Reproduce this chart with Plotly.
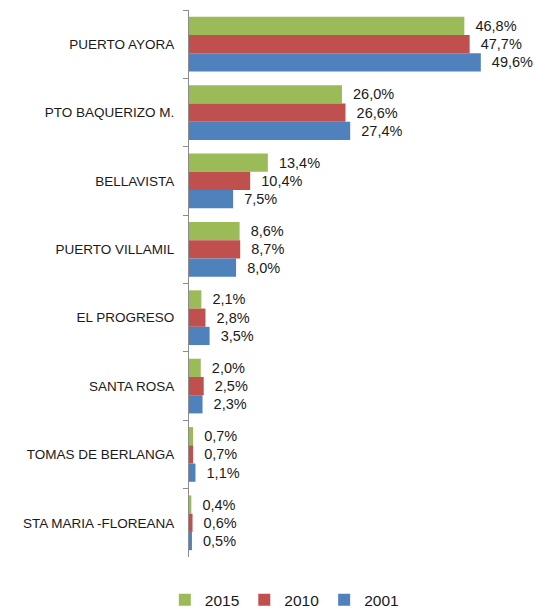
import plotly.graph_objects as go

categories = ["PUERTO AYORA", "PTO BAQUERIZO M.", "BELLAVISTA", "PUERTO VILLAMIL",
              "EL PROGRESO", "SANTA ROSA", "TOMAS DE BERLANGA", "STA MARIA -FLOREANA"]
v2015 = [46.8, 26.0, 13.4, 8.6, 2.1, 2.0, 0.7, 0.4]
v2010 = [47.7, 26.6, 10.4, 8.7, 2.8, 2.5, 0.7, 0.6]
v2001 = [49.6, 27.4, 7.5, 8.0, 3.5, 2.3, 1.1, 0.5]

series = [("2015", v2015, "#9BBB59"), ("2010", v2010, "#C0504D"), ("2001", v2001, "#4F81BD")]

def fmt(v):
    return "  " + f"{v:.1f}".replace(".", ",") + "%"

fig = go.Figure()
for name, vals, color in series:
    fig.add_trace(go.Bar(
        y=categories, x=vals, name=name, orientation="h",
        marker=dict(color=color, line=dict(width=0)),
        text=[fmt(v) for v in vals], textposition="outside",
        textfont=dict(family="Liberation Sans, Arial", size=14.5, color="#1a1a1a"),
        cliponaxis=False,
    ))

fig.update_layout(
    width=534, height=602,
    margin=dict(l=181, r=0, t=2, b=53, autoexpand=False),
    barmode="group", bargap=0.2, bargroupgap=0,
    plot_bgcolor="white", paper_bgcolor="white",
    font=dict(family="Liberation Sans, Arial", color="#1a1a1a"),
    xaxis=dict(range=[0, 60], showgrid=False, showticklabels=False, zeroline=False,
               showline=False, ticks="", automargin=False),
    yaxis=dict(autorange="reversed", showline=True, linecolor="#8c8c8c", linewidth=1,
               ticks="outside", tickson="boundaries", ticklen=5, tickcolor="#8c8c8c",
               tickfont=dict(size=13.5, color="#1a1a1a"), showgrid=False,
               ticklabelstandoff=11, automargin=False),
    legend=dict(orientation="h", xref="paper", yref="paper",
                x=0.27, y=-0.079, xanchor="center", yanchor="middle",
                font=dict(size=15.5), itemwidth=30, tracegroupgap=0),
    showlegend=True,
)

fig.write_html("out.html")
